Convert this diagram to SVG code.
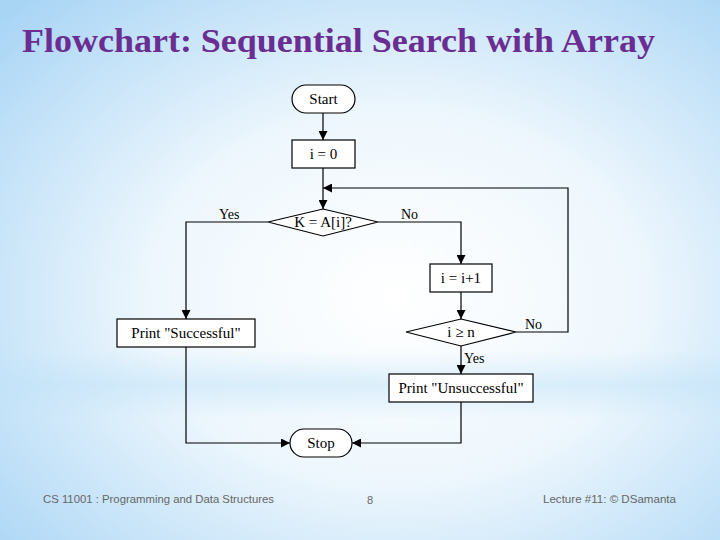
<svg xmlns="http://www.w3.org/2000/svg" width="720" height="540" viewBox="0 0 720 540">
<defs>
<radialGradient id="bg" cx="0.55" cy="0.55" r="0.75">
<stop offset="0" stop-color="#ffffff"/>
<stop offset="0.45" stop-color="#eef7fd"/>
<stop offset="1" stop-color="#a9d5f5"/>
</radialGradient>
<linearGradient id="band" x1="0" y1="0" x2="0" y2="1">
<stop offset="0" stop-color="#bfe2f8" stop-opacity="0"/>
<stop offset="0.5" stop-color="#bfe2f8" stop-opacity="0.5"/>
<stop offset="1" stop-color="#bfe2f8" stop-opacity="0"/>
</linearGradient>
<marker id="ah" viewBox="0 0 10 10" refX="10" refY="5" markerWidth="9" markerHeight="9" markerUnits="userSpaceOnUse" orient="auto">
<path d="M0,0 L10,5 L0,10 z" fill="#000"/>
</marker>
</defs>
<style>
.n{fill:#fff;stroke:#000;stroke-width:1.2}
.t{font-family:"Liberation Serif","Times New Roman",serif;font-size:15px;fill:#000;text-anchor:middle}
.l{font-family:"Liberation Serif","Times New Roman",serif;font-size:14px;fill:#000}
.c{fill:none;stroke:#000;stroke-width:1.2}
.f{font-family:"Liberation Sans Narrow","Liberation Sans",sans-serif;font-size:11px;fill:#666}
</style>
<rect width="720" height="540" fill="url(#bg)"/>
<rect x="0" y="350" width="720" height="70" fill="url(#band)"/>
<text x="22" y="52" font-family="Liberation Serif,'Times New Roman',serif" font-weight="bold" font-size="34" fill="#6a2d91" textLength="633" lengthAdjust="spacingAndGlyphs">Flowchart: Sequential Search with Array</text>
<g id="connectors">
<path class="c" d="M323,113 V140" marker-end="url(#ah)"/>
<path class="c" d="M323,168 V209" marker-end="url(#ah)"/>
<path class="c" d="M268,222 H186 V319" marker-end="url(#ah)"/>
<path class="c" d="M378,222 H461 V264" marker-end="url(#ah)"/>
<path class="c" d="M461,292 V319" marker-end="url(#ah)"/>
<path class="c" d="M516,332 H568 V188 H323" marker-end="url(#ah)"/>
<path class="c" d="M461,346 V374" marker-end="url(#ah)"/>
<path class="c" d="M186,347 V443 H290" marker-end="url(#ah)"/>
<path class="c" d="M461,402 V443 H352" marker-end="url(#ah)"/>
<text class="l" x="219" y="219">Yes</text>
<text class="l" x="401" y="219">No</text>
<text class="l" x="525" y="329">No</text>
<text class="l" x="464" y="363">Yes</text>
</g>
<g id="start"><rect class="n" x="292" y="85" width="63" height="28" rx="14"/><text class="t" x="323.5" y="104">Start</text></g>
<g id="init"><rect class="n" x="292" y="140" width="63" height="28"/><text class="t" x="323.5" y="159">i = 0</text></g>
<g id="cmp"><polygon class="n" points="323,209 378,222 323,236 268,222"/><text class="t" x="323" y="227">K = A[i]?</text></g>
<g id="inc"><rect class="n" x="430" y="264" width="62" height="28"/><text class="t" x="461" y="283">i = i+1</text></g>
<g id="chk"><polygon class="n" points="461,319 516,332 461,346 406,332"/><text class="t" x="461" y="337">i ≥ n</text></g>
<g id="succ"><rect class="n" x="117" y="319" width="138" height="28"/><text class="t" x="186" y="338">Print "Successful"</text></g>
<g id="unsucc"><rect class="n" x="389" y="374" width="144" height="28"/><text class="t" x="461" y="393">Print "Unsuccessful"</text></g>
<g id="stop"><rect class="n" x="290" y="429" width="62" height="28" rx="14"/><text class="t" x="321" y="448">Stop</text></g>
<text class="f" x="43" y="503" textLength="231" lengthAdjust="spacingAndGlyphs">CS 11001 : Programming and Data Structures</text>
<text class="f" x="367" y="504" font-size="13">8</text>
<text class="f" x="543" y="503" textLength="133" lengthAdjust="spacingAndGlyphs">Lecture #11: © DSamanta</text>
</svg>
